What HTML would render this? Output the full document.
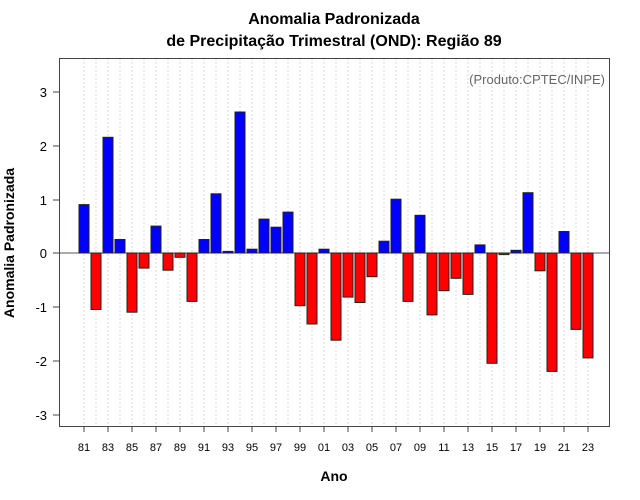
<!DOCTYPE html>
<html><head><style>body{margin:0;background:#fff}svg{display:block}</style></head><body>
<svg width="640" height="500" xmlns="http://www.w3.org/2000/svg" font-family="Liberation Sans, sans-serif">
<rect width="640" height="500" fill="#fff"/>
<g stroke="#d8d8d8" stroke-dasharray="2,2" stroke-width="1">
<line x1="84" y1="58" x2="84" y2="426"/><line x1="96" y1="58" x2="96" y2="426"/><line x1="108" y1="58" x2="108" y2="426"/><line x1="120" y1="58" x2="120" y2="426"/><line x1="132" y1="58" x2="132" y2="426"/><line x1="144" y1="58" x2="144" y2="426"/><line x1="156" y1="58" x2="156" y2="426"/><line x1="168" y1="58" x2="168" y2="426"/><line x1="180" y1="58" x2="180" y2="426"/><line x1="192" y1="58" x2="192" y2="426"/><line x1="204" y1="58" x2="204" y2="426"/><line x1="216" y1="58" x2="216" y2="426"/><line x1="228" y1="58" x2="228" y2="426"/><line x1="240" y1="58" x2="240" y2="426"/><line x1="252" y1="58" x2="252" y2="426"/><line x1="264" y1="58" x2="264" y2="426"/><line x1="276" y1="58" x2="276" y2="426"/><line x1="288" y1="58" x2="288" y2="426"/><line x1="300" y1="58" x2="300" y2="426"/><line x1="312" y1="58" x2="312" y2="426"/><line x1="324" y1="58" x2="324" y2="426"/><line x1="336" y1="58" x2="336" y2="426"/><line x1="348" y1="58" x2="348" y2="426"/><line x1="360" y1="58" x2="360" y2="426"/><line x1="372" y1="58" x2="372" y2="426"/><line x1="384" y1="58" x2="384" y2="426"/><line x1="396" y1="58" x2="396" y2="426"/><line x1="408" y1="58" x2="408" y2="426"/><line x1="420" y1="58" x2="420" y2="426"/><line x1="432" y1="58" x2="432" y2="426"/><line x1="444" y1="58" x2="444" y2="426"/><line x1="456" y1="58" x2="456" y2="426"/><line x1="468" y1="58" x2="468" y2="426"/><line x1="480" y1="58" x2="480" y2="426"/><line x1="492" y1="58" x2="492" y2="426"/><line x1="504" y1="58" x2="504" y2="426"/><line x1="516" y1="58" x2="516" y2="426"/><line x1="528" y1="58" x2="528" y2="426"/><line x1="540" y1="58" x2="540" y2="426"/><line x1="552" y1="58" x2="552" y2="426"/><line x1="564" y1="58" x2="564" y2="426"/><line x1="576" y1="58" x2="576" y2="426"/><line x1="588" y1="58" x2="588" y2="426"/>
</g>
<line x1="59" y1="253" x2="609" y2="253" stroke="#555" stroke-width="1"/>
<g stroke="#222" stroke-width="1">
<g fill="#0000ff">
<rect x="79" y="204.6" width="10" height="48.4"/><rect x="103" y="137.3" width="10" height="115.7"/><rect x="115" y="239.5" width="10" height="13.5"/><rect x="151" y="226.1" width="10" height="26.9"/><rect x="199" y="239.5" width="10" height="13.5"/><rect x="211" y="193.8" width="10" height="59.2"/><rect x="223" y="251.4" width="10" height="1.6"/><rect x="235" y="112" width="10" height="141"/><rect x="247" y="249.2" width="10" height="3.8"/><rect x="259" y="219.1" width="10" height="33.9"/><rect x="271" y="227.2" width="10" height="25.8"/><rect x="283" y="212.1" width="10" height="40.9"/><rect x="319" y="249.2" width="10" height="3.8"/><rect x="379" y="241.2" width="10" height="11.8"/><rect x="391" y="199.2" width="10" height="53.8"/><rect x="415" y="215.3" width="10" height="37.7"/><rect x="475" y="244.9" width="10" height="8.1"/><rect x="511" y="250.3" width="10" height="2.7"/><rect x="523" y="192.7" width="10" height="60.3"/><rect x="559" y="231.5" width="10" height="21.5"/>
</g>
<g fill="#ff0000">
<rect x="91" y="253" width="10" height="56.5"/><rect x="127" y="253" width="10" height="59.2"/><rect x="139" y="253" width="10" height="15.1"/><rect x="163" y="253" width="10" height="17.2"/><rect x="175" y="253" width="10" height="4.3"/><rect x="187" y="253" width="10" height="48.4"/><rect x="295" y="253" width="10" height="52.7"/><rect x="307" y="253" width="10" height="71"/><rect x="331" y="253" width="10" height="87.2"/><rect x="343" y="253" width="10" height="44.1"/><rect x="355" y="253" width="10" height="49.5"/><rect x="367" y="253" width="10" height="23.7"/><rect x="403" y="253" width="10" height="48.4"/><rect x="427" y="253" width="10" height="61.9"/><rect x="439" y="253" width="10" height="37.7"/><rect x="451" y="253" width="10" height="25.3"/><rect x="463" y="253" width="10" height="41.4"/><rect x="487" y="253" width="10" height="110.3"/><rect x="499" y="253" width="10" height="1.6"/><rect x="535" y="253" width="10" height="17.8"/><rect x="547" y="253" width="10" height="118.4"/><rect x="571" y="253" width="10" height="76.4"/><rect x="583" y="253" width="10" height="104.9"/>
</g>
</g>
<rect x="59.5" y="58.5" width="550" height="368" fill="none" stroke="#444" stroke-width="1"/>
<g stroke="#444">
<line x1="53" y1="92" x2="59" y2="92"/><line x1="53" y1="146" x2="59" y2="146"/><line x1="53" y1="200" x2="59" y2="200"/><line x1="53" y1="253" x2="59" y2="253"/><line x1="53" y1="307" x2="59" y2="307"/><line x1="53" y1="361" x2="59" y2="361"/><line x1="53" y1="415" x2="59" y2="415"/>
</g>
<g font-size="13" text-anchor="end" fill="#000">
<text x="47" y="97">3</text><text x="47" y="151">2</text><text x="47" y="205">1</text><text x="47" y="258">0</text><text x="47" y="312">-1</text><text x="47" y="366">-2</text><text x="47" y="420">-3</text>
</g>
<g stroke="#444">
<line x1="84" y1="426" x2="84" y2="432"/><line x1="108" y1="426" x2="108" y2="432"/><line x1="132" y1="426" x2="132" y2="432"/><line x1="156" y1="426" x2="156" y2="432"/><line x1="180" y1="426" x2="180" y2="432"/><line x1="204" y1="426" x2="204" y2="432"/><line x1="228" y1="426" x2="228" y2="432"/><line x1="252" y1="426" x2="252" y2="432"/><line x1="276" y1="426" x2="276" y2="432"/><line x1="300" y1="426" x2="300" y2="432"/><line x1="324" y1="426" x2="324" y2="432"/><line x1="348" y1="426" x2="348" y2="432"/><line x1="372" y1="426" x2="372" y2="432"/><line x1="396" y1="426" x2="396" y2="432"/><line x1="420" y1="426" x2="420" y2="432"/><line x1="444" y1="426" x2="444" y2="432"/><line x1="468" y1="426" x2="468" y2="432"/><line x1="492" y1="426" x2="492" y2="432"/><line x1="516" y1="426" x2="516" y2="432"/><line x1="540" y1="426" x2="540" y2="432"/><line x1="564" y1="426" x2="564" y2="432"/><line x1="588" y1="426" x2="588" y2="432"/>
</g>
<g font-size="11" text-anchor="middle" fill="#000">
<text x="84" y="451">81</text><text x="108" y="451">83</text><text x="132" y="451">85</text><text x="156" y="451">87</text><text x="180" y="451">89</text><text x="204" y="451">91</text><text x="228" y="451">93</text><text x="252" y="451">95</text><text x="276" y="451">97</text><text x="300" y="451">99</text><text x="324" y="451">01</text><text x="348" y="451">03</text><text x="372" y="451">05</text><text x="396" y="451">07</text><text x="420" y="451">09</text><text x="444" y="451">11</text><text x="468" y="451">13</text><text x="492" y="451">15</text><text x="516" y="451">17</text><text x="540" y="451">19</text><text x="564" y="451">21</text><text x="588" y="451">23</text>
</g>
<text x="334" y="24" font-size="16" font-weight="bold" text-anchor="middle">Anomalia Padronizada</text>
<text x="334" y="46" font-size="16" font-weight="bold" text-anchor="middle">de Precipitação Trimestral (OND): Região 89</text>
<text x="605" y="84" font-size="13" fill="#666" text-anchor="end">(Produto:CPTEC/INPE)</text>
<text x="334" y="481" font-size="14" font-weight="bold" text-anchor="middle">Ano</text>
<text transform="translate(14,243) rotate(-90)" font-size="14" font-weight="bold" text-anchor="middle">Anomalia Padronizada</text>
</svg>
</body></html>
